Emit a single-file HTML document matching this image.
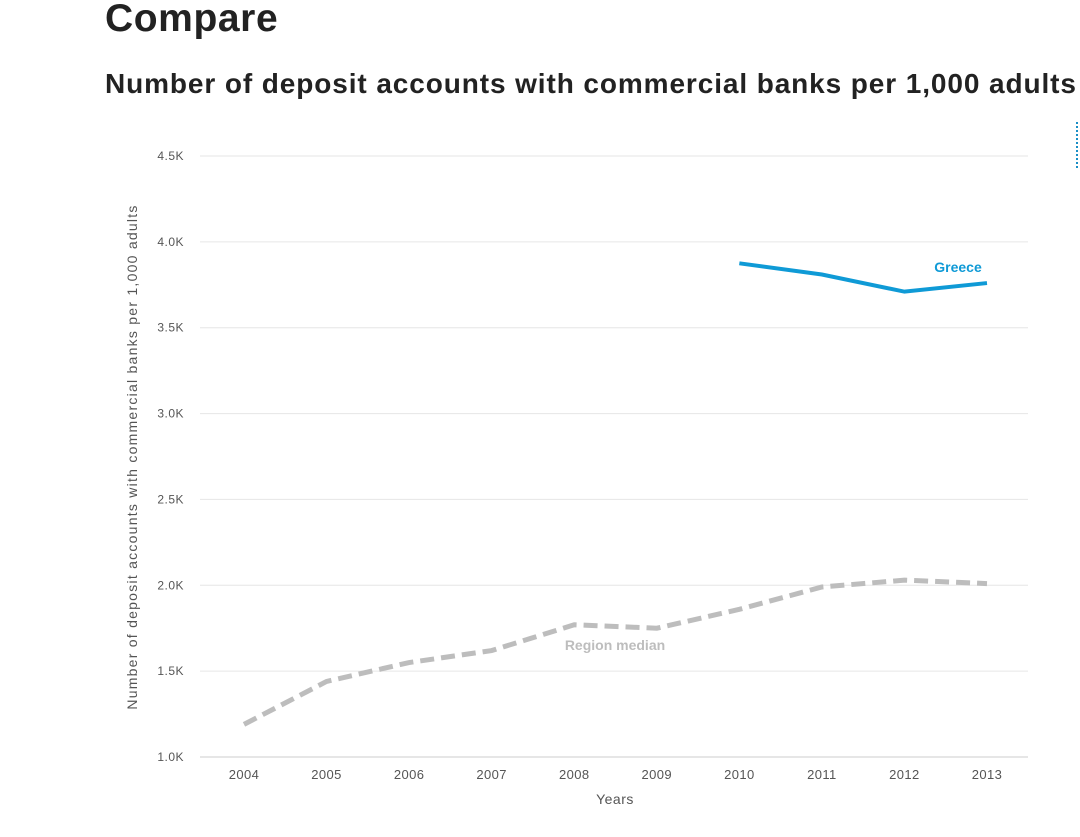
<!DOCTYPE html>
<html><head><meta charset="utf-8"><style>
body{margin:0;width:1080px;height:837px;background:#fff;overflow:hidden;font-family:"Liberation Sans",sans-serif;position:relative}
h1{position:absolute;left:105px;top:-3px;margin:0;font-size:39px;font-weight:bold;color:#222;letter-spacing:0.6px}
h2{position:absolute;left:105px;top:68px;margin:0;font-size:28px;font-weight:bold;color:#222;white-space:nowrap;letter-spacing:0.9px}
svg{position:absolute;left:0;top:0}
</style></head><body>
<h1>Compare</h1>
<h2>Number of deposit accounts with commercial banks per 1,000 adults</h2>
<svg id="c" width="1080" height="837">
<line x1="1077" y1="122" x2="1077" y2="170" stroke="#1a8fc6" stroke-width="2" stroke-dasharray="2,2"/>
</svg>
<script>
const years=[2004,2005,2006,2007,2008,2009,2010,2011,2012,2013];
const greeceYears=[2010,2011,2012,2013];
const greece=[3.875,3.81,3.71,3.76];
const region=[1.19,1.44,1.55,1.62,1.77,1.75,1.86,1.99,2.03,2.01];
const yTicks=[1.0,1.5,2.0,2.5,3.0,3.5,4.0,4.5];
const yTickLabels=["1.0K","1.5K","2.0K","2.5K","3.0K","3.5K","4.0K","4.5K"];
const NS="http://www.w3.org/2000/svg",svg=document.getElementById('c');
const X=y=>244+(y-2004)*(987-244)/9;
const Y=v=>757-(v-1.0)*(757-156)/3.5;
function mk(t,a,txt){const e=document.createElementNS(NS,t);for(const k in a)e.setAttribute(k,a[k]);if(txt!=null)e.textContent=txt;svg.appendChild(e);return e;}
yTicks.forEach((v,i)=>{
 const l=mk('line',{x1:200,x2:1028,y1:Y(v),y2:Y(v),stroke:i==0?'#ccc':'#e6e6e6','stroke-width':1});
 
 
 const t=mk('text',{x:184,y:Y(v)+4,'text-anchor':'end','font-size':12,fill:'#555','letter-spacing':0.5},yTickLabels[i]);
 
 
});
years.forEach(y=>{
 const t=mk('text',{x:X(y),y:779,'text-anchor':'middle','font-size':13,fill:'#555','letter-spacing':0.4},y);
 
 
});
const xt=mk('text',{x:615,y:804,'text-anchor':'middle','font-size':14,fill:'#555','letter-spacing':0.5},'Years');


const yt=mk('text',{x:0,y:0,'text-anchor':'middle','font-size':14,fill:'#555','letter-spacing':1.25,transform:'translate(137,457) rotate(-90)'},'Number of deposit accounts with commercial banks per 1,000 adults');


const rp=mk('polyline',{points:region.map((v,i)=>X(years[i])+','+Y(v)).join(' '),fill:'none',stroke:'#bdbdbd','stroke-width':5,'stroke-dasharray':'14,7'});


const gp=mk('polyline',{points:greece.map((v,i)=>X(greeceYears[i])+','+Y(v)).join(' '),fill:'none',stroke:'#0f9ad6','stroke-width':4});


const gl=mk('text',{x:958,y:272,'text-anchor':'middle','font-size':14,'font-weight':'bold',fill:'#0f9ad6'},'Greece');


const rl=mk('text',{x:615,y:650,'text-anchor':'middle','font-size':14,'font-weight':'bold',fill:'#bdbdbd'},'Region median');


</script>
</body></html>
